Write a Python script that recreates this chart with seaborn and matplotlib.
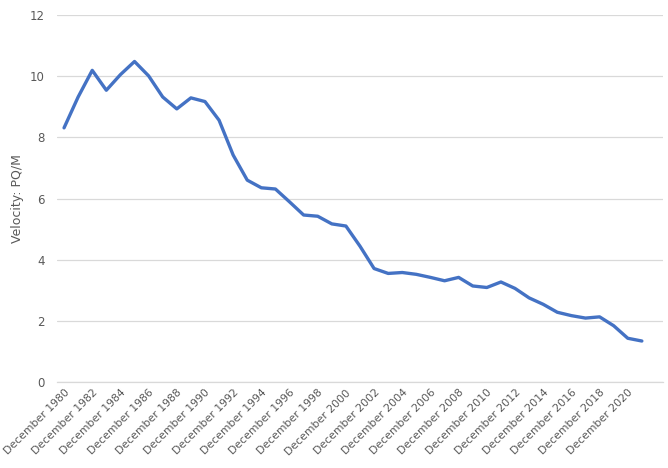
import numpy as np
import pandas as pd
import matplotlib
matplotlib.use("Agg")
import matplotlib.pyplot as plt
import seaborn as sns

# annual December readings, 1980-2021 (2022 slot left empty on the axis)
years = list(range(1980, 2022))
velocity = [8.31, 9.32, 10.19, 9.54, 10.05, 10.48, 10.01, 9.32, 8.93, 9.29,
            9.17, 8.56, 7.42, 6.60, 6.35, 6.31, 5.89, 5.46, 5.42, 5.17,
            5.10, 4.44, 3.71, 3.55, 3.58, 3.52, 3.42, 3.31, 3.42, 3.14,
            3.09, 3.27, 3.06, 2.75, 2.54, 2.28, 2.17, 2.09, 2.13, 1.84,
            1.43, 1.34]
all_years = list(range(1980, 2023))
tick_years = list(range(1980, 2021, 2))

df = pd.DataFrame({"idx": range(len(years)), "velocity": velocity})

sns.set_style("white")
plt.rcParams['font.family'] = ['DejaVu Sans']

fig = plt.figure(figsize=(6.68, 4.68), dpi=100)
ax = fig.add_axes([57 / 668, 86 / 468, (663 - 57) / 668, (382 - 15) / 468])

sns.lineplot(data=df, x="idx", y="velocity", ax=ax, color="#4472C4",
             linewidth=2.4, zorder=3)

grey = "#595959"
ax.set_ylim(0, 12)
ax.set_yticks(range(0, 13, 2))
ax.yaxis.grid(True, color="#D9D9D9", linewidth=0.9)
ax.set_xlim(-0.5, len(all_years) - 0.5)

ax.set_xticks([all_years.index(y) for y in tick_years])
ax.set_xticklabels([f"December {y}" for y in tick_years], rotation=45,
                   ha="right", rotation_mode="anchor", color=grey, fontsize=7.8)
ax.set_xticks(np.arange(-0.5, len(all_years), 1), minor=True)
ax.tick_params(axis="x", which="major", length=0, pad=4)
ax.tick_params(axis="x", which="minor", length=4, color="#D9D9D9", width=0.9,
               direction="out")
ax.tick_params(axis="y", length=0, labelsize=8.5, labelcolor=grey, pad=9)

for s in ["top", "right", "left"]:
    ax.spines[s].set_visible(False)
ax.spines["bottom"].set_color("#D9D9D9")
ax.spines["bottom"].set_linewidth(0.9)

ax.set_xlabel("")
ax.set_ylabel("Velocity: PQ/M", color=grey, fontsize=9)
ax.yaxis.set_label_coords(-33 / 606, 0.5)

fig.savefig("out.png", dpi=100)
